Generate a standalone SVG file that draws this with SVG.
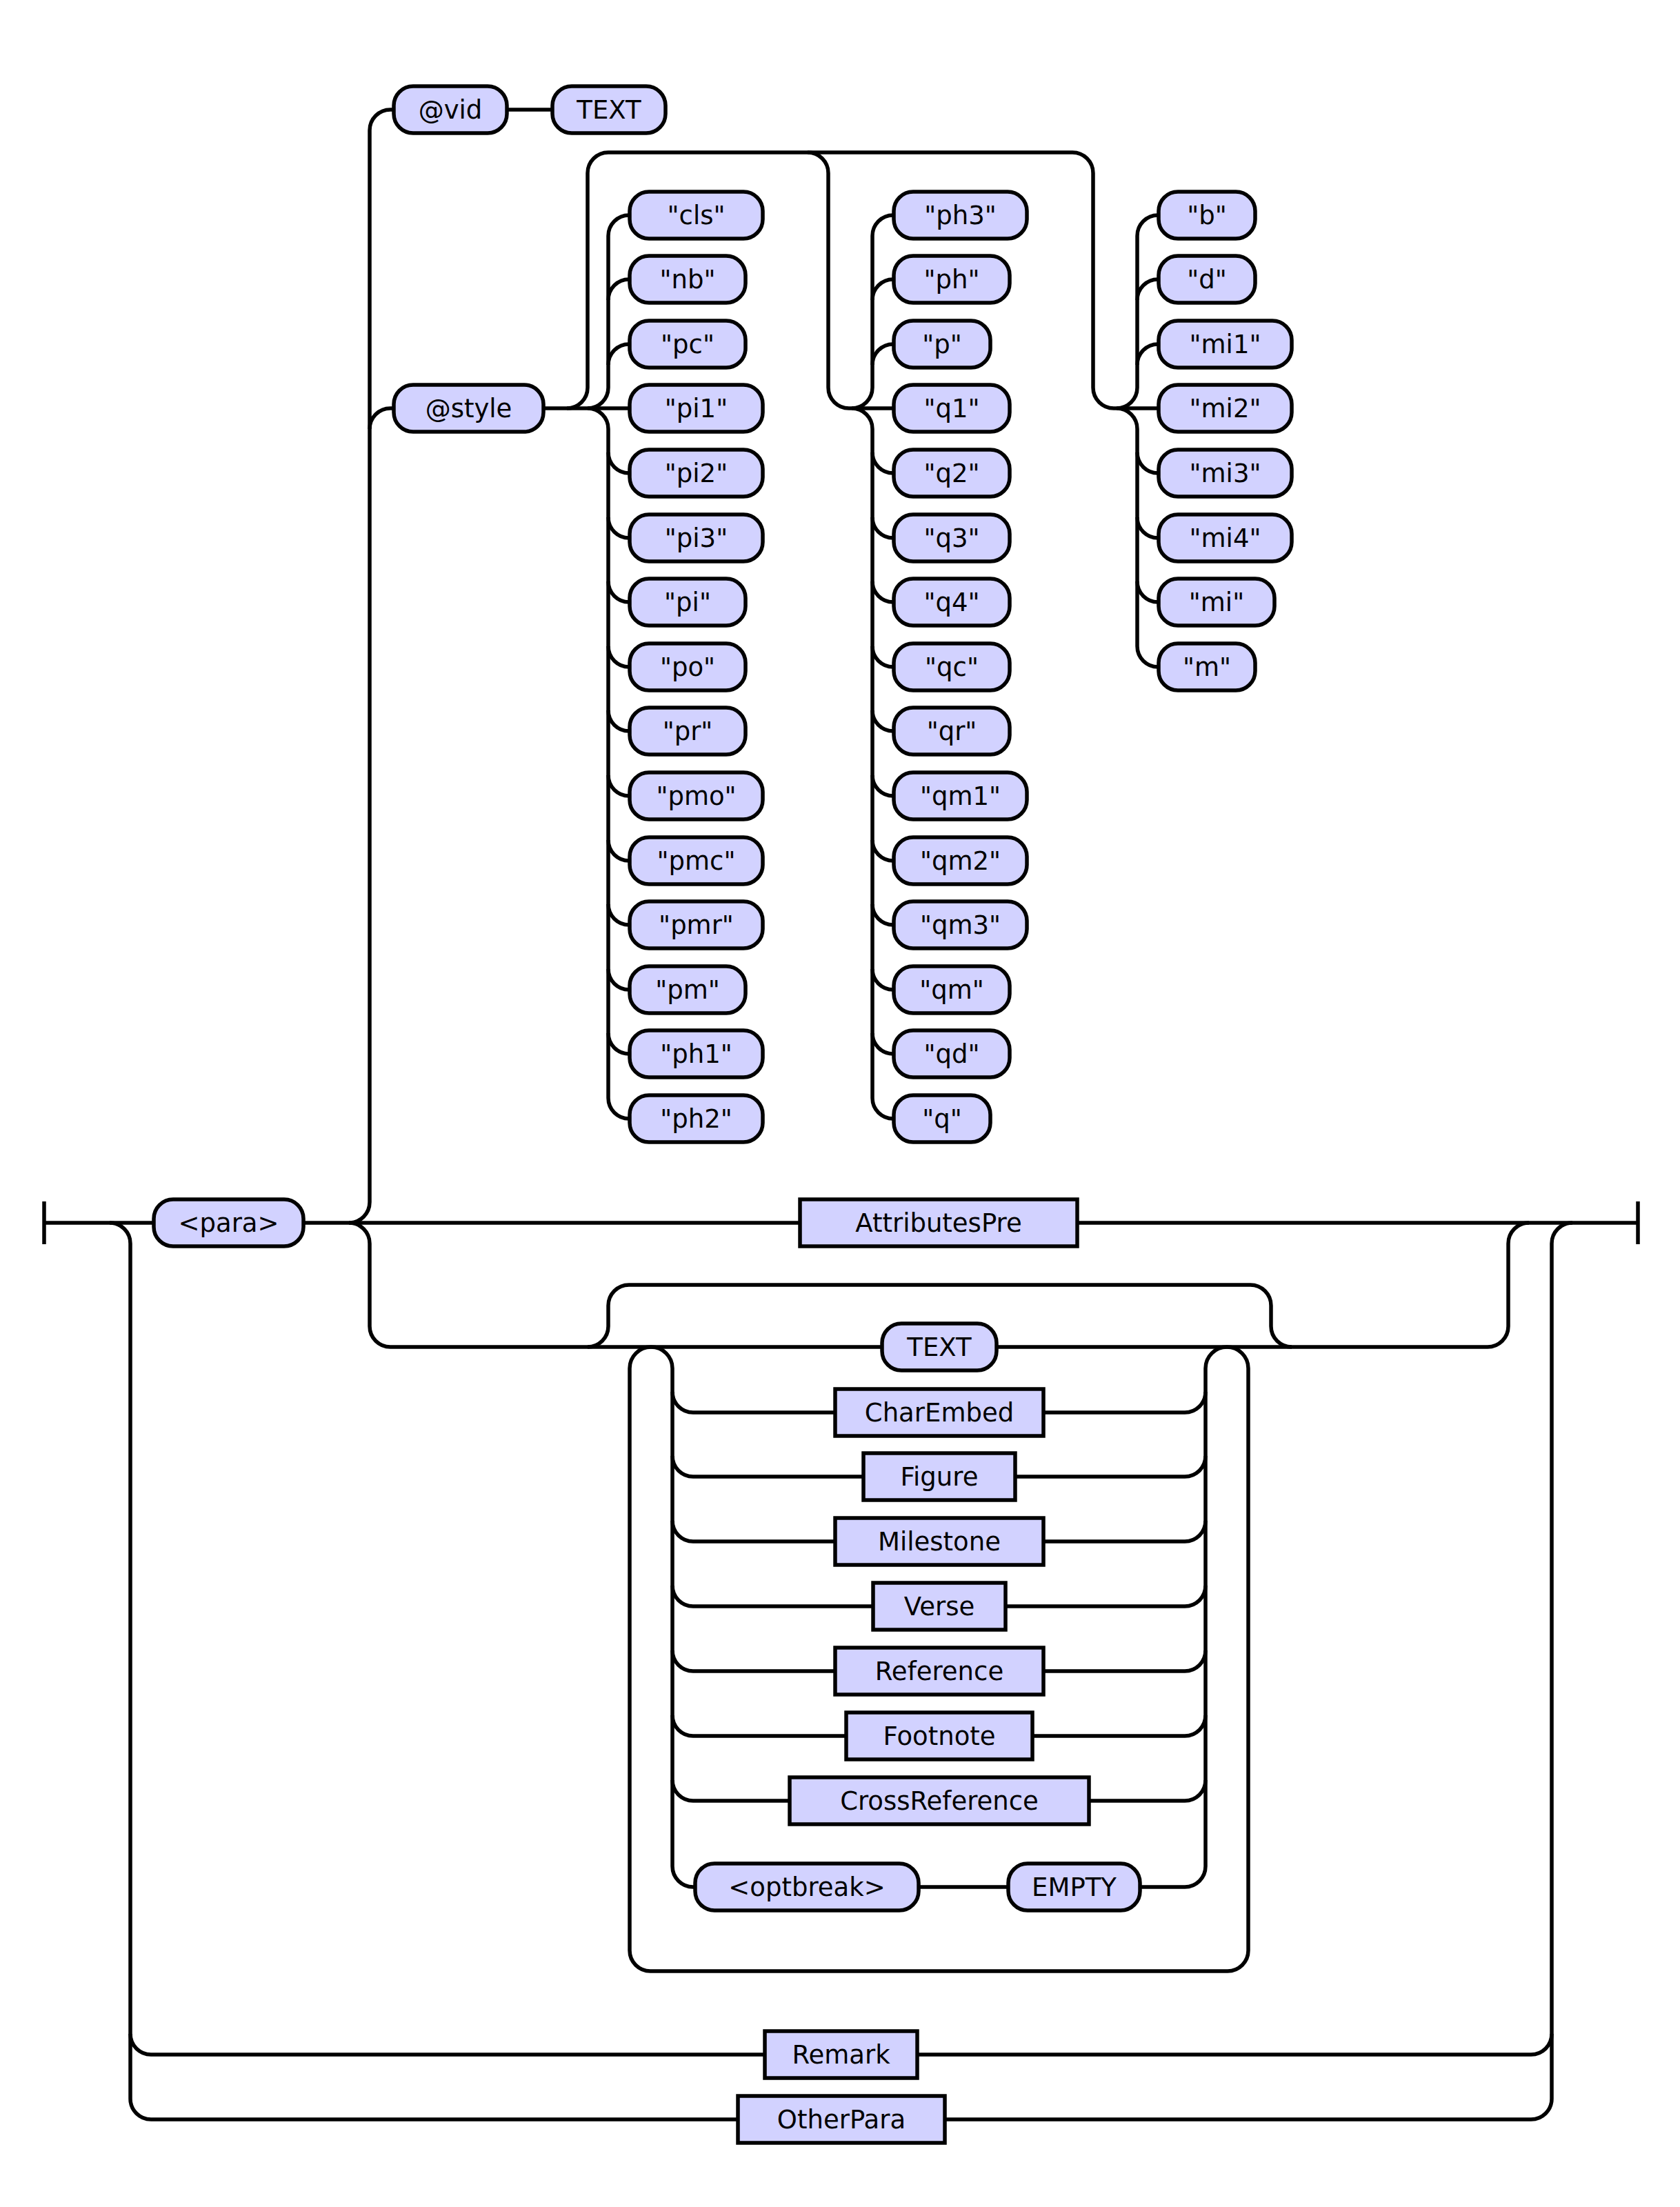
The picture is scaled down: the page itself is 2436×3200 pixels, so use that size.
<svg xmlns="http://www.w3.org/2000/svg" width="2436" height="3200" viewBox="0 0 2436 3200">
<style>
  .ln { fill: none; stroke: #000; stroke-width: 5.5; }
  .term { fill: #D2D2FF; stroke: #000; stroke-width: 5.5; }
  .nonterm { fill: #D2D2FF; stroke: #000; stroke-width: 5.5; }
  text { font-family: "DejaVu Sans", Verdana, sans-serif; font-size: 37px; text-anchor: middle; fill: #000; }
</style>
<rect width="2436" height="3200" fill="#fff"/>

<!-- connectors -->
<g id="connectors" class="ln">
  <!-- main track with start/end bars -->
  <path d="M64,1742 V1804 M64,1773 H2375 M2375,1742 V1804"/>
  <!-- Remark / OtherPara alternatives -->
  <path d="M159,1773 A30 30 0 0 1 189,1803 V3043 A30 30 0 0 0 219,3073 H1072"/>
  <path d="M189,2949 A30 30 0 0 0 219,2979 H1110"/>
  <path d="M1328,2979 H2220 A30 30 0 0 0 2250,2949"/>
  <path d="M1368,3073 H2220 A30 30 0 0 0 2250,3043 V1803 A30 30 0 0 1 2280,1773"/>
  <!-- attribute branch -->
  <path d="M506,1773 A30 30 0 0 0 536,1743 V189 A30 30 0 0 1 566,159 H803"/>
  <path d="M536,622 A30 30 0 0 1 566,592 H916"/>
  <!-- style value groups -->
  <path d="M822,592 A30 30 0 0 0 852,562 V251 A30 30 0 0 1 882,221 H1555 A30 30 0 0 1 1585,251 V562 A30 30 0 0 0 1615,592 H1682"/>
  <path d="M1171,221 A30 30 0 0 1 1201,251 V562 A30 30 0 0 0 1231,592 H1298"/>
  <!-- group 1 -->
  <path d="M852,592 A30 30 0 0 0 882,562 V342 A30 30 0 0 1 912,312 H916 M852,592 A30 30 0 0 1 882,622 V1592 A30 30 0 0 0 912,1622 H916"/>
  <path d="M882,435 A30 30 0 0 1 912,405 H916 M882,529 A30 30 0 0 1 912,499 H916"/>
  <path d="M882,656 A30 30 0 0 0 912,686 H916 M882,750 A30 30 0 0 0 912,780 H916 M882,843 A30 30 0 0 0 912,873 H916 M882,937 A30 30 0 0 0 912,967 H916 M882,1030 A30 30 0 0 0 912,1060 H916 M882,1124 A30 30 0 0 0 912,1154 H916 M882,1218 A30 30 0 0 0 912,1248 H916 M882,1311 A30 30 0 0 0 912,1341 H916 M882,1405 A30 30 0 0 0 912,1435 H916 M882,1498 A30 30 0 0 0 912,1528 H916"/>
  <!-- group 2 -->
  <path d="M1235,592 A30 30 0 0 0 1265,562 V342 A30 30 0 0 1 1295,312 H1299 M1235,592 A30 30 0 0 1 1265,622 V1592 A30 30 0 0 0 1295,1622 H1299"/>
  <path d="M1265,435 A30 30 0 0 1 1295,405 H1299 M1265,529 A30 30 0 0 1 1295,499 H1299"/>
  <path d="M1265,656 A30 30 0 0 0 1295,686 H1299 M1265,750 A30 30 0 0 0 1295,780 H1299 M1265,843 A30 30 0 0 0 1295,873 H1299 M1265,937 A30 30 0 0 0 1295,967 H1299 M1265,1030 A30 30 0 0 0 1295,1060 H1299 M1265,1124 A30 30 0 0 0 1295,1154 H1299 M1265,1218 A30 30 0 0 0 1295,1248 H1299 M1265,1311 A30 30 0 0 0 1295,1341 H1299 M1265,1405 A30 30 0 0 0 1295,1435 H1299 M1265,1498 A30 30 0 0 0 1295,1528 H1299"/>
  <!-- group 3 -->
  <path d="M1619,592 A30 30 0 0 0 1649,562 V342 A30 30 0 0 1 1679,312 H1683 M1619,592 A30 30 0 0 1 1649,622 V937 A30 30 0 0 0 1679,967 H1683"/>
  <path d="M1649,435 A30 30 0 0 1 1679,405 H1683 M1649,529 A30 30 0 0 1 1679,499 H1683"/>
  <path d="M1649,656 A30 30 0 0 0 1679,686 H1683 M1649,750 A30 30 0 0 0 1679,780 H1683 M1649,843 A30 30 0 0 0 1679,873 H1683"/>
  <!-- content track -->
  <path d="M506,1773 A30 30 0 0 1 536,1803 V1923 A30 30 0 0 0 566,1953 H2157 A30 30 0 0 0 2187,1923 V1803 A30 30 0 0 1 2217,1773"/>
  <!-- optional bypass -->
  <path d="M852,1953 A30 30 0 0 0 882,1923 V1893 A30 30 0 0 1 912,1863 H1813 A30 30 0 0 1 1843,1893 V1923 A30 30 0 0 0 1873,1953"/>
  <!-- repetition loop -->
  <path d="M944,1953 A31 31 0 0 0 913,1984 V2828 A30 30 0 0 0 943,2858 H1780 A30 30 0 0 0 1810,2828 V1984 A31 31 0 0 0 1779,1953"/>
  <!-- choice split / join -->
  <path d="M944,1953 A31 31 0 0 1 975,1984 V2706 A30 30 0 0 0 1005,2736 H1011"/>
  <path d="M1779,1953 A31 31 0 0 0 1748,1984 V2706 A30 30 0 0 1 1718,2736 H1650"/>
  <path d="M975,2018 A30 30 0 0 0 1005,2048 H1214 M1510,2048 H1718 A30 30 0 0 0 1748,2018"/>
  <path d="M975,2111 A30 30 0 0 0 1005,2141 H1255 M1469,2141 H1718 A30 30 0 0 0 1748,2111"/>
  <path d="M975,2205 A30 30 0 0 0 1005,2235 H1214 M1510,2235 H1718 A30 30 0 0 0 1748,2205"/>
  <path d="M975,2299 A30 30 0 0 0 1005,2329 H1269 M1455,2329 H1718 A30 30 0 0 0 1748,2299"/>
  <path d="M975,2393 A30 30 0 0 0 1005,2423 H1214 M1510,2423 H1718 A30 30 0 0 0 1748,2393"/>
  <path d="M975,2487 A30 30 0 0 0 1005,2517 H1230 M1494,2517 H1718 A30 30 0 0 0 1748,2487"/>
  <path d="M975,2581 A30 30 0 0 0 1005,2611 H1148 M1576,2611 H1718 A30 30 0 0 0 1748,2581"/>
  <path d="M1329,2736 H1465"/>
</g>

<!-- nodes -->
<g id="n-para"><rect class="term" x="223" y="1739" width="217" height="68" rx="28"/><text x="331.5" y="1786">&lt;para&gt;</text></g>
<g id="n-vid"><rect class="term" x="571" y="125" width="164" height="68" rx="28"/><text x="653" y="172">@vid</text></g>
<g id="n-vid-text"><rect class="term" x="801" y="125" width="164" height="68" rx="28"/><text x="883" y="172">TEXT</text></g>
<g id="n-style"><rect class="term" x="571" y="558" width="217" height="68" rx="28"/><text x="679.5" y="605">@style</text></g>

<!-- style values, group 1 -->
<g id="v-cls"><rect class="term" x="913" y="278" width="193" height="68" rx="28"/><text x="1009.5" y="325">"cls"</text></g>
<g id="v-nb"><rect class="term" x="913" y="371" width="168" height="68" rx="28"/><text x="997" y="418">"nb"</text></g>
<g id="v-pc"><rect class="term" x="913" y="465" width="168" height="68" rx="28"/><text x="997" y="512">"pc"</text></g>
<g id="v-pi1"><rect class="term" x="913" y="558" width="193" height="68" rx="28"/><text x="1009.5" y="605">"pi1"</text></g>
<g id="v-pi2"><rect class="term" x="913" y="652" width="193" height="68" rx="28"/><text x="1009.5" y="699">"pi2"</text></g>
<g id="v-pi3"><rect class="term" x="913" y="746" width="193" height="68" rx="28"/><text x="1009.5" y="793">"pi3"</text></g>
<g id="v-pi"><rect class="term" x="913" y="839" width="168" height="68" rx="28"/><text x="997" y="886">"pi"</text></g>
<g id="v-po"><rect class="term" x="913" y="933" width="168" height="68" rx="28"/><text x="997" y="980">"po"</text></g>
<g id="v-pr"><rect class="term" x="913" y="1026" width="168" height="68" rx="28"/><text x="997" y="1073">"pr"</text></g>
<g id="v-pmo"><rect class="term" x="913" y="1120" width="193" height="68" rx="28"/><text x="1009.5" y="1167">"pmo"</text></g>
<g id="v-pmc"><rect class="term" x="913" y="1214" width="193" height="68" rx="28"/><text x="1009.5" y="1261">"pmc"</text></g>
<g id="v-pmr"><rect class="term" x="913" y="1307" width="193" height="68" rx="28"/><text x="1009.5" y="1354">"pmr"</text></g>
<g id="v-pm"><rect class="term" x="913" y="1401" width="168" height="68" rx="28"/><text x="997" y="1448">"pm"</text></g>
<g id="v-ph1"><rect class="term" x="913" y="1494" width="193" height="68" rx="28"/><text x="1009.5" y="1541">"ph1"</text></g>
<g id="v-ph2"><rect class="term" x="913" y="1588" width="193" height="68" rx="28"/><text x="1009.5" y="1635">"ph2"</text></g>

<!-- style values, group 2 -->
<g id="v-ph3"><rect class="term" x="1296" y="278" width="193" height="68" rx="28"/><text x="1392.5" y="325">"ph3"</text></g>
<g id="v-ph"><rect class="term" x="1296" y="371" width="168" height="68" rx="28"/><text x="1380" y="418">"ph"</text></g>
<g id="v-p"><rect class="term" x="1296" y="465" width="140" height="68" rx="28"/><text x="1366" y="512">"p"</text></g>
<g id="v-q1"><rect class="term" x="1296" y="558" width="168" height="68" rx="28"/><text x="1380" y="605">"q1"</text></g>
<g id="v-q2"><rect class="term" x="1296" y="652" width="168" height="68" rx="28"/><text x="1380" y="699">"q2"</text></g>
<g id="v-q3"><rect class="term" x="1296" y="746" width="168" height="68" rx="28"/><text x="1380" y="793">"q3"</text></g>
<g id="v-q4"><rect class="term" x="1296" y="839" width="168" height="68" rx="28"/><text x="1380" y="886">"q4"</text></g>
<g id="v-qc"><rect class="term" x="1296" y="933" width="168" height="68" rx="28"/><text x="1380" y="980">"qc"</text></g>
<g id="v-qr"><rect class="term" x="1296" y="1026" width="168" height="68" rx="28"/><text x="1380" y="1073">"qr"</text></g>
<g id="v-qm1"><rect class="term" x="1296" y="1120" width="193" height="68" rx="28"/><text x="1392.5" y="1167">"qm1"</text></g>
<g id="v-qm2"><rect class="term" x="1296" y="1214" width="193" height="68" rx="28"/><text x="1392.5" y="1261">"qm2"</text></g>
<g id="v-qm3"><rect class="term" x="1296" y="1307" width="193" height="68" rx="28"/><text x="1392.5" y="1354">"qm3"</text></g>
<g id="v-qm"><rect class="term" x="1296" y="1401" width="168" height="68" rx="28"/><text x="1380" y="1448">"qm"</text></g>
<g id="v-qd"><rect class="term" x="1296" y="1494" width="168" height="68" rx="28"/><text x="1380" y="1541">"qd"</text></g>
<g id="v-q"><rect class="term" x="1296" y="1588" width="140" height="68" rx="28"/><text x="1366" y="1635">"q"</text></g>

<!-- style values, group 3 -->
<g id="v-b"><rect class="term" x="1680" y="278" width="140" height="68" rx="28"/><text x="1750" y="325">"b"</text></g>
<g id="v-d"><rect class="term" x="1680" y="371" width="140" height="68" rx="28"/><text x="1750" y="418">"d"</text></g>
<g id="v-mi1"><rect class="term" x="1680" y="465" width="193" height="68" rx="28"/><text x="1776.5" y="512">"mi1"</text></g>
<g id="v-mi2"><rect class="term" x="1680" y="558" width="193" height="68" rx="28"/><text x="1776.5" y="605">"mi2"</text></g>
<g id="v-mi3"><rect class="term" x="1680" y="652" width="193" height="68" rx="28"/><text x="1776.5" y="699">"mi3"</text></g>
<g id="v-mi4"><rect class="term" x="1680" y="746" width="193" height="68" rx="28"/><text x="1776.5" y="793">"mi4"</text></g>
<g id="v-mi"><rect class="term" x="1680" y="839" width="168" height="68" rx="28"/><text x="1764" y="886">"mi"</text></g>
<g id="v-m"><rect class="term" x="1680" y="933" width="140" height="68" rx="28"/><text x="1750" y="980">"m"</text></g>

<!-- main line nonterminals -->
<g id="n-attributespre"><rect class="nonterm" x="1160" y="1739" width="402" height="68"/><text x="1361" y="1786">AttributesPre</text></g>

<!-- content choice -->
<g id="n-text"><rect class="term" x="1279" y="1919" width="166" height="68" rx="28"/><text x="1362" y="1966">TEXT</text></g>
<g id="n-charembed"><rect class="nonterm" x="1211" y="2014" width="302" height="68"/><text x="1362" y="2061">CharEmbed</text></g>
<g id="n-figure"><rect class="nonterm" x="1252" y="2107" width="220" height="68"/><text x="1362" y="2154">Figure</text></g>
<g id="n-milestone"><rect class="nonterm" x="1211" y="2201" width="302" height="68"/><text x="1362" y="2248">Milestone</text></g>
<g id="n-verse"><rect class="nonterm" x="1266" y="2295" width="192" height="68"/><text x="1362" y="2342">Verse</text></g>
<g id="n-reference"><rect class="nonterm" x="1211" y="2389" width="302" height="68"/><text x="1362" y="2436">Reference</text></g>
<g id="n-footnote"><rect class="nonterm" x="1227" y="2483" width="270" height="68"/><text x="1362" y="2530">Footnote</text></g>
<g id="n-crossreference"><rect class="nonterm" x="1145" y="2577" width="434" height="68"/><text x="1362" y="2624">CrossReference</text></g>
<g id="n-optbreak"><rect class="term" x="1008" y="2702" width="324" height="68" rx="28"/><text x="1170" y="2749">&lt;optbreak&gt;</text></g>
<g id="n-empty"><rect class="term" x="1462" y="2702" width="191" height="68" rx="28"/><text x="1557.5" y="2749">EMPTY</text></g>

<!-- alternatives to the paragraph -->
<g id="n-remark"><rect class="nonterm" x="1109" y="2945" width="221" height="68"/><text x="1219.5" y="2992">Remark</text></g>
<g id="n-otherpara"><rect class="nonterm" x="1070" y="3039" width="300" height="68"/><text x="1220" y="3086">OtherPara</text></g>
</svg>
